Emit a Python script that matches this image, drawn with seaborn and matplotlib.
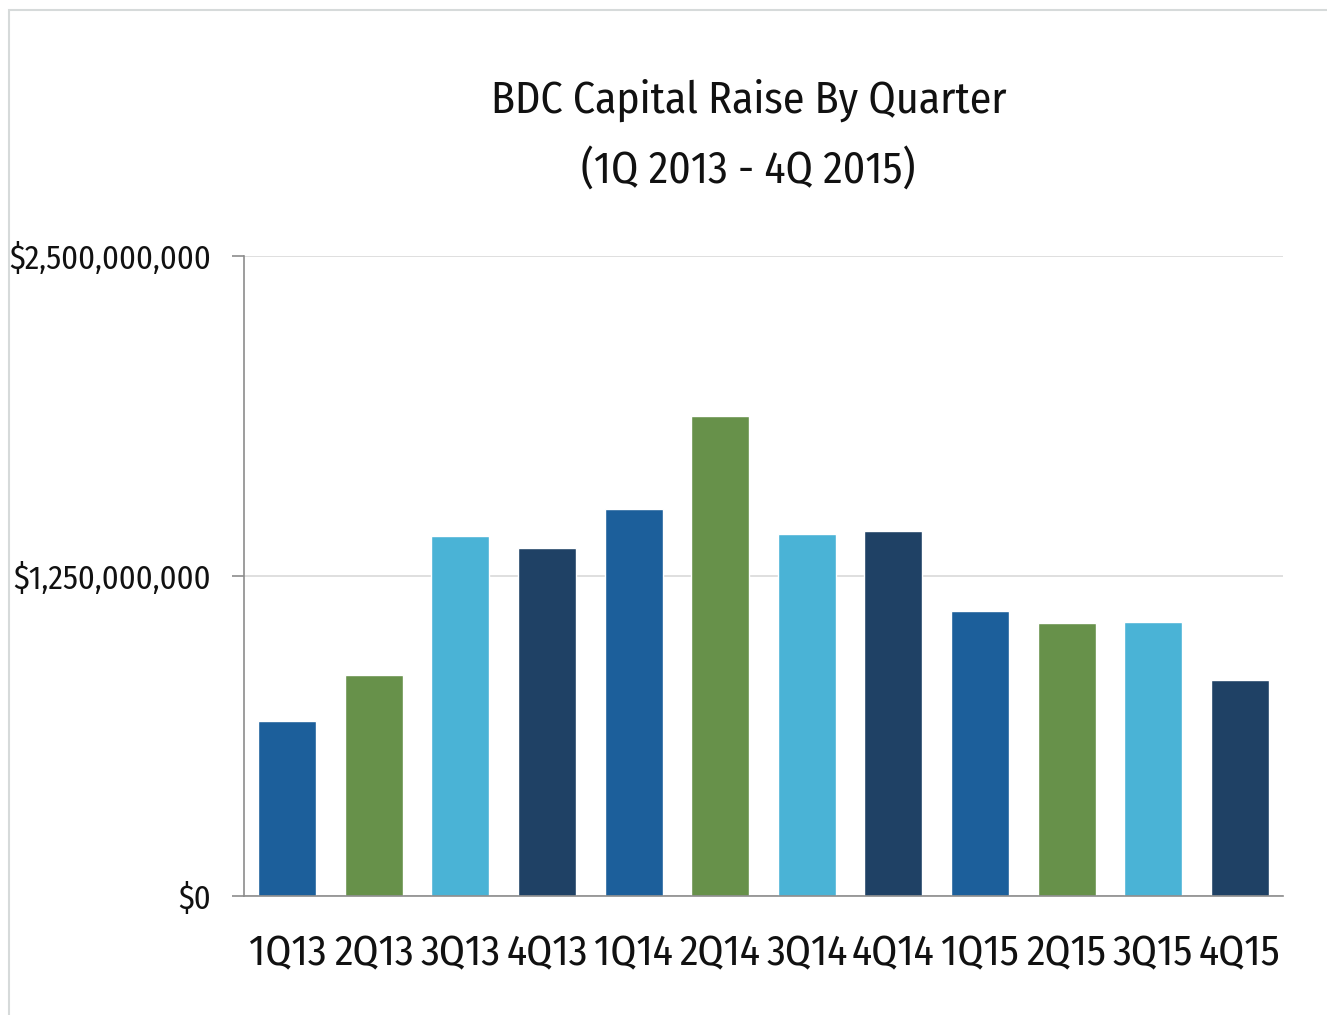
import pandas as pd
import matplotlib.pyplot as plt
import seaborn as sns
from matplotlib.patches import Rectangle
from matplotlib.ticker import FuncFormatter

# data
quarters = ["1Q13", "2Q13", "3Q13", "4Q13", "1Q14", "2Q14",
            "3Q14", "4Q14", "1Q15", "2Q15", "3Q15", "4Q15"]
capital_raised = [0.684e9, 0.863e9, 1.406e9, 1.359e9, 1.512e9, 1.875e9,
                  1.414e9, 1.426e9, 1.113e9, 1.066e9, 1.070e9, 0.844e9]
bar_colors = ["#1C5F9B", "#67914A", "#4AB3D6", "#1F4165"] * 3
y_ticks = [0, 1.25e9, 2.5e9]

df = pd.DataFrame({"Quarter": quarters, "Raised": capital_raised})

sns.set_style("white")
plt.rcParams['font.family'] = ['Fira Sans Condensed', 'PT Sans Narrow', 'Roboto Condensed',
                               'IBM Plex Sans Condensed', 'DejaVu Sans']

fig = plt.figure(figsize=(13.27, 10.15), dpi=100)
ax = fig.add_axes([0.1839, 0.1172, 0.7829, 0.6306])

sns.barplot(data=df, x="Quarter", y="Raised", hue="Quarter",
            palette=bar_colors, width=0.67, legend=False, ax=ax,
            saturation=1)

ax.set_xlim(-0.5, len(quarters) - 0.5)
ax.set_ylim(0, 2.5e9)
ax.set_yticks(y_ticks)
ax.yaxis.set_major_formatter(FuncFormatter(lambda v, p: f"${v:,.0f}"))
ax.grid(axis="y", color="#d9d9d9", linewidth=1.2)
ax.set_axisbelow(True)
ax.set_xlabel("")
ax.set_ylabel("")

# tick marks sit between the bars, labels under the bars
ax.set_xticks([i - 0.5 for i in range(len(quarters) + 1)], minor=True)
ax.tick_params(axis="x", which="major", length=0, pad=27, labelsize=30, labelcolor="#111111")
ax.tick_params(axis="x", which="minor", length=9, width=1.2, color="#8c8c8c", direction="out")
ax.tick_params(axis="y", length=9, width=1.2, color="#8c8c8c", direction="out",
               pad=15, labelsize=23.5, labelcolor="#111111", left=True)

for side in ["top", "right"]:
    ax.spines[side].set_visible(False)
for side in ["left", "bottom"]:
    ax.spines[side].set_color("#8c8c8c")
    ax.spines[side].set_linewidth(1.2)

# two-line title
fig.text(0.564, 1 - 100 / 1015, "BDC Capital Raise By Quarter",
         ha="center", va="center", fontsize=31.5, color="#111111")
fig.text(0.564, 1 - 170 / 1015, "(1Q 2013 - 4Q 2015)",
         ha="center", va="center", fontsize=31.5, color="#111111")

# light frame around the chart area
fig.patches.append(Rectangle((9 / 1327, -0.05), 1.1, 1.05 - 10 / 1015,
                             transform=fig.transFigure, fill=False,
                             edgecolor="#d6dada", linewidth=1.5))

plt.savefig("out.png", dpi=100)
